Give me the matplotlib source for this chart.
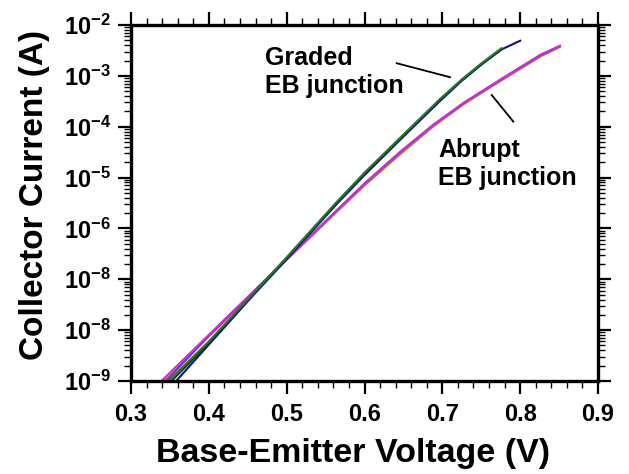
import matplotlib
matplotlib.use("Agg")
import matplotlib.pyplot as plt
from matplotlib.ticker import FixedLocator, FixedFormatter, MultipleLocator, LogLocator, NullFormatter

plt.rcParams['font.family'] = ['Liberation Sans', 'DejaVu Sans']
plt.rcParams['font.weight'] = 'bold'
plt.rcParams['mathtext.fontset'] = 'custom'
plt.rcParams['mathtext.rm'] = 'Liberation Sans:bold'
plt.rcParams['mathtext.bf'] = 'Liberation Sans:bold'
plt.rcParams['mathtext.it'] = 'Liberation Sans:bold'
plt.rcParams['mathtext.default'] = 'bf'

# Collector current vs base-emitter voltage, graded EB junction devices
vbe_graded_green = [0.348, 0.40, 0.45, 0.50, 0.565, 0.60, 0.65, 0.697, 0.725, 0.75, 0.776]
ic_graded_green = [1.0e-9, 6.0e-9, 4.0e-8, 2.7e-7, 3.4e-6, 1.25e-5, 7.0e-5, 3.5e-4, 8.5e-4, 1.75e-3, 3.5e-3]

vbe_graded_dark = [0.352, 0.40, 0.45, 0.50, 0.565, 0.60, 0.65, 0.697, 0.725, 0.75, 0.776]
ic_graded_dark = [1.0e-9, 5.6e-9, 3.9e-8, 2.65e-7, 3.3e-6, 1.2e-5, 6.8e-5, 3.4e-4, 8.3e-4, 1.7e-3, 3.3e-3]

vbe_graded_navy = [0.358, 0.40, 0.45, 0.50, 0.565, 0.60, 0.65, 0.697, 0.725, 0.75, 0.776, 0.80]
ic_graded_navy = [1.0e-9, 5.2e-9, 3.7e-8, 2.5e-7, 3.1e-6, 1.12e-5, 6.4e-5, 3.2e-4, 8.0e-4, 1.65e-3, 3.3e-3, 4.9e-3]

# Abrupt EB junction devices
vbe_abrupt_olive = [0.343, 0.40, 0.45, 0.50, 0.556, 0.60, 0.646, 0.688, 0.727, 0.774, 0.826, 0.851]
ic_abrupt_olive = [1.0e-9, 7.5e-9, 4.3e-8, 2.4e-7, 1.6e-6, 7.0e-6, 2.9e-5, 1.0e-4, 2.75e-4, 7.8e-4, 2.4e-3, 3.7e-3]

vbe_abrupt_purple = [0.345, 0.40, 0.45, 0.50, 0.556, 0.60, 0.646, 0.688, 0.727, 0.774, 0.826, 0.851]
ic_abrupt_purple = [1.0e-9, 7.8e-9, 4.4e-8, 2.5e-7, 1.7e-6, 7.6e-6, 3.2e-5, 1.08e-4, 2.9e-4, 8.3e-4, 2.55e-3, 3.85e-3]

vbe_abrupt_magenta = [0.339, 0.40, 0.45, 0.50, 0.556, 0.60, 0.646, 0.688, 0.727, 0.774, 0.826, 0.851]
ic_abrupt_magenta = [1.0e-9, 8.1e-9, 4.5e-8, 2.5e-7, 1.7e-6, 7.6e-6, 3.2e-5, 1.07e-4, 2.9e-4, 8.3e-4, 2.6e-3, 3.9e-3]

x_ticks = [0.3, 0.4, 0.5, 0.6, 0.7, 0.8, 0.9]
x_tick_labels = ['0.3', '0.4', '0.5', '0.6', '0.7', '0.8', '0.9']
y_ticks = [1e-2, 1e-3, 1e-4, 1e-5, 1e-6, 1e-7, 1e-8, 1e-9]
y_tick_labels = [r'$10^{-2}$', r'$10^{-3}$', r'$10^{-4}$', r'$10^{-5}$',
                 r'$10^{-6}$', r'$10^{-8}$', r'$10^{-8}$', r'$10^{-9}$']

fig = plt.figure(figsize=(6.29, 4.74), dpi=100)
ax = fig.add_axes([0.2083, 0.1962, 0.7424, 0.7511])

lw = 1.5
ax.plot(vbe_abrupt_olive, ic_abrupt_olive, color='#a08a10', lw=lw)
ax.plot(vbe_abrupt_purple, ic_abrupt_purple, color='#6a3ad0', lw=lw)
ax.plot(vbe_abrupt_magenta, ic_abrupt_magenta, color='#e020e0', lw=lw)
ax.plot(vbe_graded_navy, ic_graded_navy, color='#101080', lw=lw)
ax.plot(vbe_graded_dark, ic_graded_dark, color='#203020', lw=lw)
ax.plot(vbe_graded_green, ic_graded_green, color='#1f7a2a', lw=lw)

ax.set_yscale('log')
ax.set_xlim(0.3, 0.9)
ax.set_ylim(1e-9, 1e-2)

ax.xaxis.set_major_locator(FixedLocator(x_ticks))
ax.xaxis.set_major_formatter(FixedFormatter(x_tick_labels))
ax.xaxis.set_minor_locator(MultipleLocator(0.02))
ax.yaxis.set_major_locator(FixedLocator(y_ticks))
ax.yaxis.set_major_formatter(FixedFormatter(y_tick_labels))
ax.yaxis.set_minor_locator(LogLocator(base=10, subs=range(2, 10), numticks=20))
ax.yaxis.set_minor_formatter(NullFormatter())

for s in ax.spines.values():
    s.set_linewidth(2.4)

ax.tick_params(axis='both', which='major', direction='out', length=9.5, width=1.6,
               top=True, right=True, labelsize=17, pad=5)
ax.tick_params(axis='both', which='minor', direction='out', length=5, width=1.0,
               top=True, right=True)
ax.tick_params(axis='x', which='major', pad=6)

ax.set_xlabel('Base-Emitter Voltage (V)', fontsize=24.5, fontweight='bold')
ax.set_ylabel('Collector Current (A)', fontsize=24, fontweight='bold')
ax.xaxis.set_label_coords(0.476, -0.16)
ax.yaxis.set_label_coords(-0.173, 0.522)

# Annotations
ax.text(0.472, 1.64e-3, 'Graded', fontsize=18, fontweight='bold', ha='left', va='baseline')
ax.text(0.472, 4.6e-4, 'EB junction', fontsize=18, fontweight='bold', ha='left', va='baseline')
ax.plot([0.6414, 0.7099], [1.77e-3, 9.4e-4], color='black', lw=1.3)
ax.text(0.695, 2.54e-5, 'Abrupt', fontsize=18, fontweight='bold', ha='left', va='baseline')
ax.text(0.695, 7.15e-6, 'EB junction', fontsize=18, fontweight='bold', ha='left', va='baseline')
ax.plot([0.7634, 0.7912], [4.2e-4, 1.26e-4], color='black', lw=1.3)

fig.savefig('out.png', dpi=100)
